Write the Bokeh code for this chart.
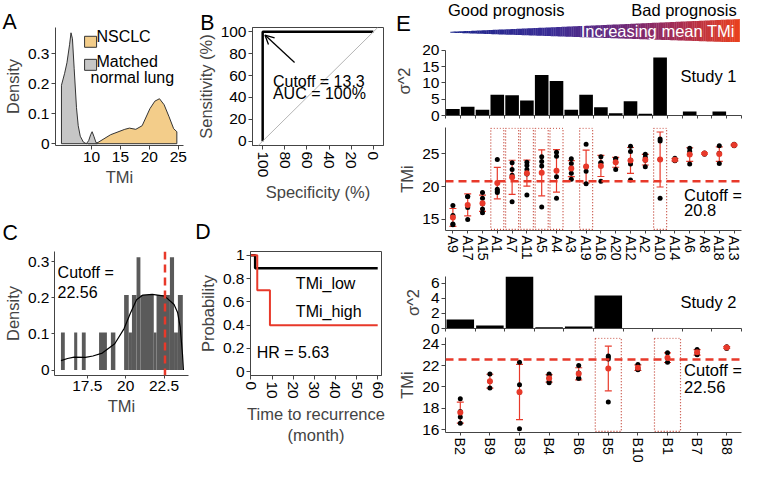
import numpy as np
from bokeh.plotting import figure
from bokeh.layouts import row, column
from bokeh.models import (Span, Slope, Arrow, OpenHead, Label, FactorRange, Range1d,
                          ColumnDataSource, Whisker, TeeHead, FixedTicker)
from bokeh.embed import file_html
from bokeh.resources import INLINE

# ---------------- data ----------------
# Panel A: density of TMi
a_normal_tmi = [4.8, 5.35, 5.75, 6.2, 6.45, 6.7, 7.0, 7.4, 7.7, 8.05, 8.6, 9.1, 9.5, 9.85, 10.1, 10.4, 10.75, 11.0]
a_normal_den = [0.195, 0.235, 0.27, 0.33, 0.37, 0.35, 0.25, 0.12, 0.06, 0.025, 0.005, 0.0, 0.01, 0.03, 0.04, 0.025, 0.005, 0.0]
a_nsclc_tmi = [9.45, 11.1, 13.3, 15.75, 16.55, 17.65, 18.75, 20.1, 20.95, 21.75, 22.55, 23.4, 24.2, 24.75]
a_nsclc_den = [0.0, 0.004, 0.03, 0.048, 0.052, 0.048, 0.06, 0.117, 0.142, 0.15, 0.13, 0.09, 0.05, 0.04]
a_xticks = [10, 15, 20, 25]
a_yticks = [0.0, 0.1, 0.2, 0.3]

# Panel B: ROC
roc_spec = [100, 100, 0]
roc_sens = [0, 100, 100]
b_ticks = [0, 20, 40, 60, 80, 100]

# Panel C: histogram + density of TMi (study 2)
c_left = [15.79, 16.65, 17.15, 18.27, 19.04, 19.90, 20.20, 20.41, 20.71, 20.96, 21.83, 22.01, 22.88, 23.15, 23.40]
c_right = [16.04, 16.85, 17.40, 18.78, 19.33, 20.20, 20.41, 20.71, 20.96, 21.83, 22.01, 22.88, 23.15, 23.40, 23.72]
c_dens = [0.104, 0.104, 0.104, 0.104, 0.104, 0.208, 0.104, 0.208, 0.313, 0.208, 0.104, 0.208, 0.313, 0.104, 0.208]
c_kde_x = [15.79, 16.22, 16.65, 17.38, 17.87, 18.48, 19.29, 19.90, 20.30, 20.71, 21.12, 21.73, 22.54, 23.15, 23.38, 23.55, 23.70, 23.76]
c_kde_y = [0.026, 0.032, 0.036, 0.035, 0.039, 0.047, 0.073, 0.115, 0.157, 0.195, 0.208, 0.21, 0.205, 0.182, 0.16, 0.119, 0.043, 0.0]
c_cutoff = 22.56
c_xticks = [17.5, 20.0, 22.5]

# Panel D: Kaplan-Meier
km_low_t = [0, 2, 60]
km_low_s = [1.0, 0.89, 0.89]
km_high_t = [0, 3, 9, 60]
km_high_s = [1.0, 0.7, 0.4, 0.4]
d_xticks = [0, 10, 20, 30, 40, 50, 60]
d_yticks = [0.0, 0.2, 0.4, 0.6, 0.8, 1.0]

# Panel E: study 1
s1_names = ["A9", "A17", "A15", "A1", "A7", "A11", "A5", "A4", "A3", "A19",
            "A16", "A20", "A12", "A2", "A10", "A14", "A6", "A8", "A18", "A13"]
s1_var = [2.0, 2.7, 1.8, 6.4, 6.2, 4.6, 12.4, 10.6, 1.8, 6.4,
          2.5, 0.7, 4.4, 0.5, 17.8, 0.15, 1.2, 0.15, 1.2, 0.15]
s1_tmi = [[17.1, 15.6, 14.3, 14.2], [18.5, 18.5, 16.8, 15.0], [19.1, 18.2, 17.4, 16.6, 16.0],
          [24.1, 19.6, 19.3, 19.1], [23.6, 22.6, 21.7, 17.7], [23.7, 23.2, 22.6, 21.9, 18.7],
          [24.5, 23.8, 23.1, 16.9], [25.2, 24.6, 21.5, 18.2], [24.2, 23.5, 22.8, 22.0, 21.1],
          [26.4, 23.0, 22.3, 20.4], [24.5, 23.6, 23.6, 20.8], [24.2, 24.2, 23.7, 22.6],
          [26.1, 25.3, 24.0, 23.4, 21.0], [24.9, 24.4, 24.0, 23.0], [27.2, 26.9, 24.1, 18.2],
          [24.3, 24.1, 24.0, 23.9], [25.8, 25.3, 24.9, 23.4], [25.1, 25.0, 24.9],
          [26.2, 25.0, 25.0, 23.5], [26.4, 26.3, 26.2]]
s1_boxed = ["A1", "A7", "A11", "A5", "A4", "A19", "A10"]
s1_cutoff = 20.8
s1_var_ticks = [0, 5, 10, 15, 20]
s1_tmi_ticks = [15, 20, 25]

# Panel E: study 2
s2_names = ["B2", "B9", "B3", "B4", "B6", "B5", "B10", "B1", "B7", "B8"]
s2_var = [1.2, 0.4, 6.9, 0.15, 0.25, 4.4, 0.05, 0.05, 0.03, 0.03]
s2_tmi = [[18.9, 17.7, 17.2, 16.6], [21.2, 20.5, 19.9], [22.3, 20.2, 19.5, 16.1],
          [21.2, 21.1, 20.8, 20.5, 20.4], [22.0, 21.3, 20.8, 20.8], [22.9, 22.8, 22.6, 18.6],
          [22.1, 21.7, 21.6], [23.2, 22.7, 22.3], [23.5, 23.2, 23.0], [23.75, 23.7, 23.6]]
s2_boxed = ["B5", "B1"]
s2_cutoff = 22.56
s2_var_ticks = [0, 2, 4, 6]
s2_tmi_ticks = [16, 18, 20, 22, 24]

# ---------------- style / geometry ----------------
FONT = "Liberation Sans"
SX, SY, FS = 745 / 761, 465 / 481, 0.97
ORANGE = "#f3cd8a"
GRAY = "#c6c6c6"
EDGE = "#333333"
AX = "#444444"
RED = "#e8392a"
HIST = "#5a5a5a"


def fpx(v):
    return f"{v * FS:.1f}px"


class Panel:
    def __init__(self, canvas, frame, xr, yr, x_range=None, y_range=None, axes=True):
        self.canvas, self.frame, self.xr, self.yr = canvas, frame, xr, yr
        c = [round(canvas[0] * SX), round(canvas[1] * SY), round(canvas[2] * SX), round(canvas[3] * SY)]
        f = [round(frame[0] * SX), round(frame[1] * SY), round(frame[2] * SX), round(frame[3] * SY)]
        self.c = c
        extra = {} if axes else dict(x_axis_location=None, y_axis_location=None)
        self.p = figure(width=c[2] - c[0], height=c[3] - c[1],
                        x_range=x_range if x_range is not None else Range1d(*xr),
                        y_range=y_range if y_range is not None else Range1d(*yr),
                        min_border_left=f[0] - c[0], min_border_right=c[2] - f[2],
                        min_border_top=f[1] - c[1], min_border_bottom=c[3] - f[3],
                        output_backend="svg", toolbar_location=None, **extra)
        p = self.p
        p.xgrid.visible = False
        p.ygrid.visible = False
        p.outline_line_color = None
        p.background_fill_color = "white"
        p.border_fill_color = "white"

    def dx(self, x):
        f, r = self.frame, self.xr
        return r[0] + (x - f[0]) / (f[2] - f[0]) * (r[1] - r[0])

    def dy(self, y):
        f, r = self.frame, self.yr
        return r[1] - (y - f[1]) / (f[3] - f[1]) * (r[1] - r[0])

    def text(self, x, y, s, size=16.5, align="left", baseline="middle", color="black",
             angle=0.0, place="center"):
        cx = x * SX - self.c[0]
        cy = y * SY - self.c[1]
        lab = Label(x=cx, y=cy, x_units="canvas", y_units="canvas",
                    text=s, text_font=FONT, text_font_size=fpx(size),
                    text_align=align, text_baseline=baseline,
                    text_color=color, angle=angle)
        self.p.add_layout(lab, place)

    def style(self, tick_fs=16, label_fs=17, tick_out=4, standoff=2, label_standoff=3):
        for ax in self.p.axis:
            ax.axis_line_color = AX
            ax.major_tick_line_color = AX
            ax.major_tick_out = tick_out
            ax.major_tick_in = 0
            ax.minor_tick_line_color = None
            ax.major_label_text_font = FONT
            ax.major_label_text_font_size = fpx(tick_fs)
            ax.major_label_text_color = "black"
            ax.major_label_standoff = standoff
            ax.axis_label_text_font = FONT
            ax.axis_label_text_font_style = "normal"
            ax.axis_label_text_font_size = fpx(label_fs)
            ax.axis_label_standoff = label_standoff


def bar_xaxis(p, n):
    # baseline with small ticks between bars, no tick labels
    ax = p.xaxis[0]
    ax.ticker = FixedTicker(ticks=[], minor_ticks=list(range(n + 1)))
    ax.minor_tick_line_color = AX
    ax.minor_tick_out = 3
    ax.minor_tick_in = 0


# ---------------- Panel A ----------------
A = Panel((0, 0, 197, 225), (52, 22, 187, 150), (3.77, 25.9), (-0.006, 0.3877))
pa = A.p
pa.patch([a_nsclc_tmi[0]] + a_nsclc_tmi + [a_nsclc_tmi[-1]], [0] + a_nsclc_den + [0],
         fill_color=ORANGE, line_color=EDGE, line_width=1)
pa.patch([a_normal_tmi[0]] + a_normal_tmi + [a_normal_tmi[-1]], [0] + a_normal_den + [0],
         fill_color=GRAY, line_color=EDGE, line_width=1)
pa.rect(x=[A.dx(89), A.dx(89)], y=[A.dy(37.5), A.dy(62.5)], width=12, height=11,
        width_units="screen", height_units="screen", fill_color=[ORANGE, GRAY], line_color=EDGE)
A.text(98, 37.7, "NSCLC", 16.5)
A.text(98, 62.7, "Matched", 16.5)
A.text(92, 80, "normal lung", 16.5)
pa.xaxis.ticker = a_xticks
pa.yaxis.ticker = a_yticks
pa.xaxis.axis_label = "TMi"
pa.yaxis.axis_label = "Density"
A.style()
A.text(2, 22.5, "A", 22, baseline="alphabetic", place="above")

# ---------------- Panel B ----------------
B = Panel((197, 0, 400, 225), (254, 28, 391, 153), (109.2, -9.2), (-4, 104))
pb = B.p
pb.outline_line_color = AX
pb.add_layout(Slope(gradient=-1, y_intercept=100, line_color="#b5b5b5", line_width=1))
pb.line(roc_spec, roc_sens, line_width=2.5, line_color="black")
pb.add_layout(Arrow(end=OpenHead(size=9, line_width=1.3, line_color="black"),
                    x_start=B.dx(298), y_start=B.dy(65), x_end=B.dx(267), y_end=B.dy(36),
                    line_width=1.3, line_color="black"))
B.text(278.3, 83.3, "Cutoff = 13.3", 16.5)
B.text(278.3, 96.7, "AUC = 100%", 16.5)
pb.xaxis.ticker = b_ticks
pb.yaxis.ticker = b_ticks
pb.xaxis.major_label_orientation = "vertical"
pb.xaxis.axis_label = "Specificity (%)"
pb.yaxis.axis_label = "Sensitivity (%)"
B.style()
B.text(204, 23.5, "B", 22, baseline="alphabetic", place="above")

# ---------------- Panel C ----------------
C = Panel((0, 225, 197, 481), (49, 257, 192, 393), (15.37, 24.09), (-0.0152, 0.329))
pc = C.p
pc.quad(left=c_left, right=c_right, top=c_dens, bottom=0, fill_color=HIST, line_color=None)
pc.line(c_kde_x, c_kde_y, line_color="black", line_width=1.2)
pc.add_layout(Span(location=c_cutoff, dimension="height", line_color=RED, line_width=2.5, line_dash="8 5"))
C.text(58.3, 281.7, "Cutoff =", 16.5)
C.text(58.3, 301.7, "22.56", 16.5)
pc.xaxis.ticker = c_xticks
pc.yaxis.ticker = a_yticks
pc.xaxis.axis_label = "TMi"
pc.yaxis.axis_label = "Density"
C.style(tick_out=3)
C.text(2, 240, "C", 22, baseline="alphabetic", place="above")

# ---------------- Panel D ----------------
D = Panel((197, 225, 400, 481), (255, 260, 389, 388), (-0.2, 61.8), (-0.0333, 1.0333))
pd_ = D.p
pd_.outline_line_color = AX
pd_.step(km_low_t, km_low_s, mode="after", line_color="black", line_width=2.5)
pd_.step(km_high_t, km_high_s, mode="after", line_color=RED, line_width=2)
D.text(301.7, 293, "TMi_low", 16.5)
D.text(301.7, 322, "TMi_high", 16.5)
D.text(261.7, 364, "HR = 5.63", 16.5)
pd_.xaxis.ticker = d_xticks
pd_.yaxis.ticker = d_yticks
pd_.xaxis.major_label_orientation = "vertical"
pd_.xaxis.axis_label = "Time to recurrence\n(month)"
pd_.yaxis.axis_label = "Probability"
D.style()
D.text(199, 239, "D", 22, baseline="alphabetic", place="above")

# ---------------- Panel E: header ----------------
E0 = Panel((400, 0, 761, 43), (450, 0, 757, 43), (450, 757), (43, 0), axes=False)
pe0 = E0.p
n = 160
edges = np.linspace(455, 755, n + 1)
stops = np.array([[0.0, 30, 40, 140], [0.35, 58, 45, 150], [0.6, 110, 40, 120],
                  [0.8, 170, 45, 80], [1.0, 235, 65, 30]])
wx, wy, wc = [], [], []
for i in range(n):
    a, b = edges[i], edges[i + 1]
    t = (0.5 * (a + b) - 455) / 300
    rgb = [int(np.interp(t, stops[:, 0], stops[:, k])) for k in (1, 2, 3)]
    wx.append([a, b + 0.3, b + 0.3, a])
    wy.append([32 - (a - 455) * 13 / 300, 32 - (b - 455) * 13 / 300,
               33 + (b - 455) * 10 / 300, 33 + (a - 455) * 10 / 300])
    wc.append("#%02x%02x%02x" % tuple(rgb))
pe0.patches(wx, wy, fill_color=wc, line_color=None)
E0.text(457, 9.5, "Good prognosis", 17)
E0.text(752, 9.5, "Bad prognosis", 17, align="right")
E0.text(750, 32, "Increasing mean TMi", 17, align="right", color="white")
E0.text(404, 23.5, "E", 23, baseline="alphabetic", place="left")

# ---------------- Study 1 variance ----------------
E1 = Panel((400, 43, 761, 127), (450, 48, 757, 119), (0, 20), (0, 21.19))
pe1 = E1.p
s1_pos = [i + 0.5 for i in range(len(s1_names))]
pe1.vbar(x=s1_pos, top=s1_var, width=0.92, fill_color="black", line_color=None)
E1.text(751.7, 78.3, "Study 1", 17, align="right")
pe1.yaxis.ticker = s1_var_ticks
pe1.yaxis.bounds = (0, 20)
pe1.yaxis.axis_label = "σ^2"
E1.style(label_standoff=6)
bar_xaxis(pe1, len(s1_names))


def dot_panel(P, names, vals, boxed, cutoff, ticks):
    p = P.p
    ytop, ybot = P.dy(P.frame[1] + 0.8), P.dy(P.frame[3] - 1.2)
    p.rect(x=boxed, y=[(ytop + ybot) / 2] * len(boxed), width=0.88, height=ytop - ybot,
           fill_color=None, line_color="#c0392b", line_dash="1 2", line_width=1.2)
    p.add_layout(Span(location=cutoff, dimension="width", line_color=RED, line_width=2.5, line_dash="8 5"))
    means = [float(np.mean(v)) for v in vals]
    sds = [float(np.std(v, ddof=1)) for v in vals]
    src = ColumnDataSource(dict(x=names, m=means, lo=[m - s for m, s in zip(means, sds)],
                                hi=[m + s for m, s in zip(means, sds)]))
    p.add_layout(Whisker(source=src, base="x", lower="lo", upper="hi", line_color=RED, line_width=1.2,
                         upper_head=TeeHead(size=7, line_color=RED, line_width=1.2),
                         lower_head=TeeHead(size=7, line_color=RED, line_width=1.2)))
    px_, py_ = [], []
    for nme, v in zip(names, vals):
        px_ += [nme] * len(v)
        py_ += v
    p.scatter(px_, py_, size=5, fill_color="black", line_color=None)
    p.scatter("x", "m", source=src, size=6, fill_color=RED, line_color=None)
    p.yaxis.ticker = ticks
    p.yaxis.axis_label = "TMi"
    P.style(tick_fs=16)
    p.xaxis.major_label_orientation = "vertical"
    p.xaxis.major_label_text_font_size = fpx(14.5)
    p.xaxis.major_tick_out = 3


# ---------------- Study 1 TMi ----------------
E2 = Panel((400, 127, 761, 281), (450, 131, 757, 238), (0, 20), (13.32, 28.96),
           x_range=FactorRange(*s1_names))
dot_panel(E2, s1_names, s1_tmi, s1_boxed, s1_cutoff, s1_tmi_ticks)
E2.text(698.3, 201.7, "Cutoff =", 17)
E2.text(698.3, 216.7, "20.8", 17)

# ---------------- Study 2 variance ----------------
E3 = Panel((400, 281, 761, 348), (450, 286, 757, 339), (0, 10), (0, 6.91))
pe3 = E3.p
s2_pos = [i + 0.5 for i in range(len(s2_names))]
pe3.vbar(x=s2_pos, top=s2_var, width=0.93, fill_color="black", line_color=None)
E3.text(751.7, 311.7, "Study 2", 17, align="right")
pe3.yaxis.ticker = s2_var_ticks
pe3.yaxis.axis_label = "σ^2"
E3.style(label_standoff=6)
bar_xaxis(pe3, len(s2_names))

# ---------------- Study 2 TMi ----------------
E4 = Panel((400, 348, 761, 481), (450, 349, 757, 449), (0, 10), (15.74, 24.62),
           x_range=FactorRange(*s2_names))
dot_panel(E4, s2_names, s2_tmi, s2_boxed, s2_cutoff, s2_tmi_ticks)
E4.text(698.3, 381.7, "Cutoff =", 17)
E4.text(698.3, 400, "22.56", 17)

left = column(row(A.p, B.p), row(C.p, D.p))
right = column(E0.p, E1.p, E2.p, E3.p, E4.p)
layout = row(left, right)

open("out.html", "w").write(file_html(layout, INLINE))
